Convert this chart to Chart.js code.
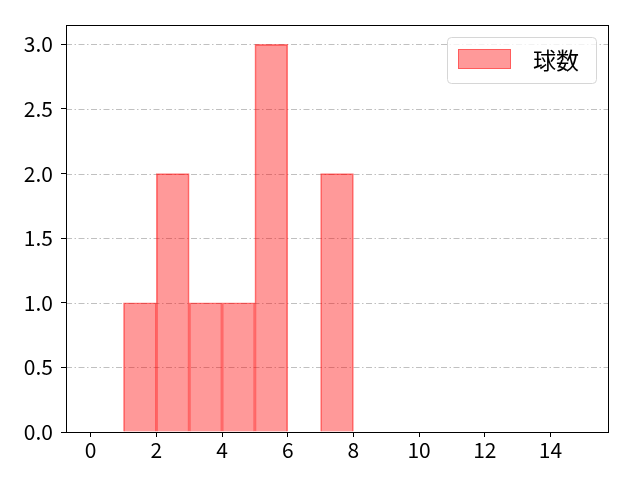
<!DOCTYPE html>
<html>
<head>
<meta charset="utf-8">
<script src="https://cdn.jsdelivr.net/npm/chart.js@4"></script>
<style>
  html, body { margin: 0; padding: 0; background: #fff; }
  #wrap { width: 640px; height: 480px; }
</style>
</head>
<body>
<div id="wrap"><canvas id="histChart" width="640" height="480"></canvas></div>
<script>
// 히스토그램 데이터 (bin 중심값, 개수)
const binCenters = [1.5, 2.5, 3.5, 4.5, 5.5, 6.5, 7.5];
const counts = [1, 2, 1, 1, 3, 0, 2];
const xTicks = [0, 2, 4, 6, 8, 10, 12, 14];
const yTicks = [0, 0.5, 1.0, 1.5, 2.0, 2.5, 3.0];
const seriesLabel = "球数";

const FONT = "'Noto Sans CJK JP', 'DejaVu Sans', sans-serif";

// 격자선, 테두리, 범례를 직접 그리는 플러그인
const framePlugin = {
  id: "frame",
  beforeDatasetsDraw(chart) {
    const { ctx, chartArea: a, scales } = chart;
    ctx.save();
    ctx.strokeStyle = "#b0b0b0";
    ctx.lineWidth = 0.8;
    ctx.setLineDash([6, 2.5, 1.5, 2.5]);
    yTicks.forEach((v) => {
      const y = Math.round(scales.y.getPixelForValue(v)) + 0.5;
      ctx.beginPath();
      ctx.moveTo(a.left, y);
      ctx.lineTo(a.right, y);
      ctx.stroke();
    });
    ctx.restore();
  },
  afterDraw(chart) {
    const { ctx, chartArea: a } = chart;
    ctx.save();
    ctx.strokeStyle = "#000";
    ctx.lineWidth = 1;
    ctx.strokeRect(a.left + 0.5, a.top + 0.5, a.right - a.left, a.bottom - a.top);

    // 범례
    const bx = 447, by = 37, bw = 149, bh = 46, r = 4;
    ctx.fillStyle = "rgba(255,255,255,0.8)";
    ctx.strokeStyle = "#d6d6d6";
    ctx.beginPath();
    ctx.roundRect(bx + 0.5, by + 0.5, bw, bh, r);
    ctx.fill();
    ctx.stroke();
    ctx.fillStyle = "rgba(255,0,0,0.4)";
    ctx.fillRect(458, 49, 53, 20);
    ctx.strokeStyle = "rgba(255,0,0,0.4)";
    ctx.strokeRect(458.5, 49.5, 52, 19);
    ctx.fillStyle = "#000";
    ctx.font = "23px " + FONT;
    ctx.textBaseline = "middle";
    ctx.textAlign = "left";
    ctx.fillText(seriesLabel, 533, 60);
    ctx.restore();
  },
};

new Chart(document.getElementById("histChart"), {
  type: "bar",
  data: {
    datasets: [
      {
        label: seriesLabel,
        data: binCenters.map((x, i) => ({ x: x, y: counts[i] })),
        backgroundColor: "rgba(255,0,0,0.4)",
        borderColor: "rgba(255,0,0,0.5)",
        borderWidth: 1,
        barPercentage: 1,
        categoryPercentage: 1,
      },
    ],
  },
  options: {
    responsive: false,
    animation: false,
    devicePixelRatio: 1,
    layout: { padding: { left: 0, top: 25, right: 32, bottom: 0 } },
    scales: {
      x: {
        type: "linear",
        offset: false,
        min: -0.75,
        max: 15.75,
        afterBuildTicks: (scale) => {
          scale.ticks = xTicks.map((v) => ({ value: v }));
        },
        afterFit: (scale) => {
          scale.height = 48;
        },
        grid: {
          display: true,
          offset: false,
          drawOnChartArea: false,
          drawTicks: true,
          tickLength: 5,
          color: "#000",
        },
        border: { display: true, color: "#000" },
        ticks: {
          color: "#000",
          font: { family: FONT, size: 21 },
          padding: 0,
          maxRotation: 0,
        },
      },
      y: {
        type: "linear",
        min: 0,
        max: 3.15,
        afterBuildTicks: (scale) => {
          scale.ticks = yTicks.map((v) => ({ value: v }));
        },
        afterFit: (scale) => {
          scale.width = 66;
        },
        grid: {
          display: true,
          drawOnChartArea: false,
          drawTicks: true,
          tickLength: 5,
          color: "#000",
        },
        border: { display: true, color: "#000" },
        ticks: {
          color: "#000",
          font: { family: FONT, size: 21 },
          padding: 8,
          callback: (v) => Number(v).toFixed(1),
        },
      },
    },
    plugins: {
      legend: { display: false },
      tooltip: { enabled: false },
    },
  },
  plugins: [framePlugin],
});
</script>
</body>
</html>
